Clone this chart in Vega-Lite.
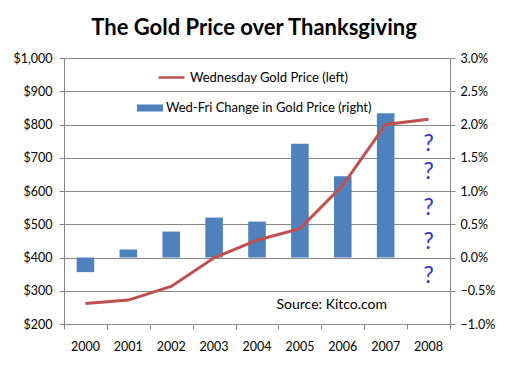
{
  "$schema": "https://vega.github.io/schema/vega-lite/v6.json",
  "width": 386,
  "height": 266,
  "autosize": {"type": "none"},
  "padding": {"left": 64, "top": 58, "right": 59, "bottom": 46},
  "background": "white",
  "title": {
    "text": "The Gold Price over Thanksgiving",
    "font": "Lato",
    "fontSize": 22,
    "fontWeight": "bold",
    "color": "#000000",
    "anchor": "middle",
    "baseline": "alphabetic",
    "offset": -5,
    "dx": -3
  },
  "config": {
    "font": "Lato",
    "view": {"stroke": null},
    "axis": {
      "labelFont": "Lato",
      "labelFontSize": 12.5,
      "labelColor": "#000000",
      "domainColor": "#868686",
      "tickColor": "#868686",
      "gridColor": "#868686",
      "gridOpacity": 1,
      "tickSize": 5,
      "labelOverlap": false,
      "title": null
    },
    "legend": {
      "labelFont": "Lato",
      "labelFontSize": 13,
      "labelColor": "#000000",
      "labelLimit": 0,
      "padding": 0,
      "title": null
    }
  },
  "datasets": {
    "gold": [
      {"year": "2000", "price": 262, "change": -0.0022},
      {"year": "2001", "price": 272, "change": 0.0012},
      {"year": "2002", "price": 313, "change": 0.0039},
      {"year": "2003", "price": 399, "change": 0.0060},
      {"year": "2004", "price": 452, "change": 0.0054},
      {"year": "2005", "price": 487, "change": 0.0171},
      {"year": "2006", "price": 617, "change": 0.0122},
      {"year": "2007", "price": 800, "change": 0.0217},
      {"year": "2008", "price": 816, "change": null}
    ],
    "questions": [
      {"year": "2008", "pos": 0.0170, "mark": "?"},
      {"year": "2008", "pos": 0.0129, "mark": "?"},
      {"year": "2008", "pos": 0.0075, "mark": "?"},
      {"year": "2008", "pos": 0.0023, "mark": "?"},
      {"year": "2008", "pos": -0.0028, "mark": "?"}
    ],
    "source": [
      {"year": "2006", "pos": -0.0072, "label": "Source: Kitco.com"}
    ]
  },
  "layer": [
    {
      "layer": [
        {
          "data": {"name": "gold"},
          "mark": {"type": "bar", "width": {"band": 0.41}},
          "encoding": {
            "x": {
              "field": "year",
              "type": "nominal",
              "scale": {"paddingInner": 0, "paddingOuter": 0},
              "axis": {"orient": "bottom", "labels": false, "ticks": true, "tickBand": "extent", "tickSize": 5, "domain": true, "grid": false, "labelAngle": 0}
            },
            "y": {
              "field": "change",
              "type": "quantitative",
              "scale": {"domain": [-0.01, 0.03], "nice": false},
              "axis": {"orient": "right", "format": ".1%", "values": [-0.01, -0.005, 0, 0.005, 0.01, 0.015, 0.02, 0.025, 0.03], "labelOverlap": false, "domain": true, "ticks": true, "grid": false, "labelPadding": 5}
            },
            "fill": {
              "datum": "Wed-Fri Change in Gold Price (right)",
              "type": "nominal",
              "scale": {"range": ["#4f81bd"]},
              "legend": {
                "orient": "none",
                "legendX": 73,
                "legendY": 37,
                "symbolType": "M-1,-0.27H1V0.27H-1Z",
                "symbolSize": 676,
                "symbolStrokeWidth": 0,
                "symbolFillColor": "#4f81bd",
                "labelOffset": 3
              }
            }
          }
        },
        {
          "data": {"name": "questions"},
          "mark": {"type": "text", "fontSize": 23, "color": "#3333cc", "font": "Lato", "baseline": "middle"},
          "encoding": {
            "x": {"field": "year", "type": "nominal", "axis": null},
            "y": {"field": "pos", "type": "quantitative", "axis": null},
            "text": {"field": "mark"}
          }
        },
        {
          "data": {"name": "source"},
          "mark": {"type": "text", "fontSize": 14, "color": "#000000", "font": "Lato", "baseline": "middle", "dx": -11},
          "encoding": {
            "x": {"field": "year", "type": "nominal", "axis": null},
            "y": {"field": "pos", "type": "quantitative", "axis": null},
            "text": {"field": "label"}
          }
        }
      ],
      "resolve": {"axis": {"x": "independent", "y": "independent"}}
    },
    {
      "data": {"name": "gold"},
      "mark": {"type": "line", "strokeWidth": 3},
      "encoding": {
        "x": {
          "field": "year",
          "type": "nominal",
          "axis": {"orient": "bottom", "labels": true, "ticks": false, "domain": false, "labelAngle": 0, "labelPadding": 16}
        },
        "y": {
          "field": "price",
          "type": "quantitative",
          "scale": {"domain": [200, 1000], "nice": false, "zero": false},
          "axis": {"orient": "left", "format": "$,.0f", "values": [200, 300, 400, 500, 600, 700, 800, 900, 1000], "domain": true, "ticks": true, "grid": true, "labelPadding": 7}
        },
        "stroke": {
          "datum": "Wednesday Gold Price (left)",
          "type": "nominal",
          "scale": {"range": ["#c0504d"]},
          "legend": {
            "orient": "none",
            "legendX": 93,
            "legendY": 5,
            "symbolType": "stroke",
            "symbolSize": 676,
            "symbolStrokeWidth": 2.5,
            "symbolStrokeColor": "#c0504d",
            "labelOffset": 4
          }
        }
      }
    }
  ],
  "resolve": {
    "scale": {"y": "independent"},
    "axis": {"x": "independent"}
  }
}
